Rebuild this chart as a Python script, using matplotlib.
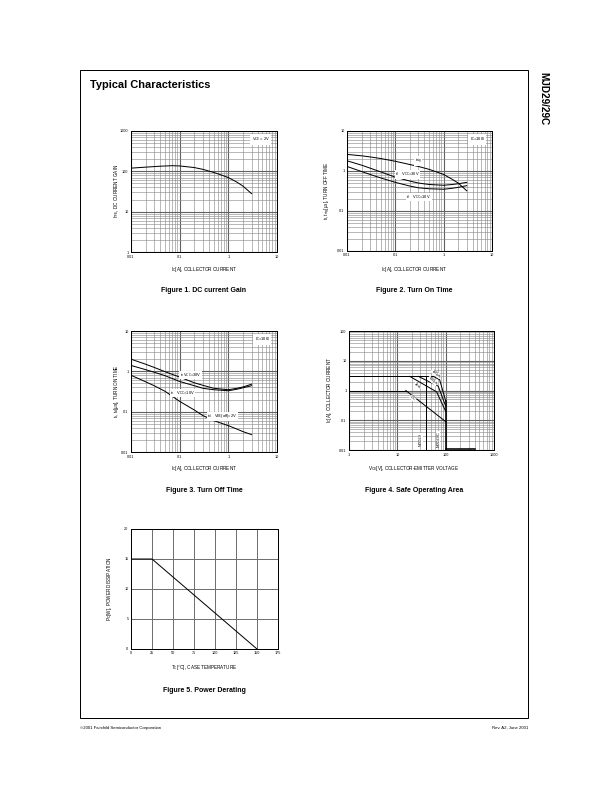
import matplotlib
matplotlib.use("Agg")
import matplotlib.pyplot as plt
import matplotlib.patches as patches
from matplotlib.ticker import LogLocator, FixedLocator, NullFormatter
import numpy as np

plt.rcParams['font.family'] = ['Liberation Sans', 'DejaVu Sans']
plt.rcParams['mathtext.default'] = 'regular'

W, H = 612, 792

# Figure 1 - DC current gain
ic1 = [0.01, 0.02, 0.04, 0.07, 0.1, 0.2, 0.3, 0.5, 0.7, 1, 1.5, 2, 3]
hfe = [120, 127, 134, 138, 136, 124, 112, 94, 82, 70, 54, 43, 28]

# Figure 2 - turn off time
ic2 = [0.01, 0.02, 0.03, 0.05, 0.1, 0.2, 0.3, 0.5, 1, 1.5, 2, 3]
tstg = [2.6, 2.4, 2.25, 2.05, 1.75, 1.45, 1.3, 1.1, 0.82, 0.62, 0.5, 0.32]
tf30 = [1.8, 1.4, 1.18, 0.95, 0.7, 0.56, 0.5, 0.46, 0.44, 0.46, 0.48, 0.52]
tf10 = [1.3, 0.97, 0.82, 0.67, 0.52, 0.42, 0.38, 0.36, 0.35, 0.37, 0.39, 0.43]

# Figure 3 - turn on time
ic3 = [0.01, 0.02, 0.03, 0.05, 0.1, 0.2, 0.3, 0.5, 1, 1.5, 2, 3]
tr30 = [2.0, 1.5, 1.25, 0.98, 0.72, 0.52, 0.45, 0.38, 0.35, 0.38, 0.41, 0.48]
tr10 = [1.4, 1.1, 0.95, 0.78, 0.56, 0.44, 0.38, 0.35, 0.33, 0.36, 0.39, 0.44]
td = [0.8, 0.55, 0.44, 0.32, 0.18, 0.11, 0.08, 0.06, 0.045, 0.037, 0.032, 0.027]

# Figure 4 - safe operating area
soa_v_3a = [1, 55]
soa_i_3a = [3, 3]
soa_v_1a = [1, 15]
soa_i_1a = [1, 1]
v_100us = [55, 75, 100]
i_100us = [3, 2.3, 0.45]
v_500us = [27, 70, 100]
i_500us = [3, 1.4, 0.3]
v_1ms = [18, 65, 100]
i_1ms = [3, 0.9, 0.2]
v_dc = [15, 100]
i_dc = [1, 0.09]
v_mjd29 = [40, 40]
i_mjd29 = [3, 0.01]
v_mjd29c = [100, 100]
i_mjd29c = [0.45, 0.01]

# Figure 5 - power derating
tc = [0, 25, 150]
pc = [15, 15, 0]

log_ticks = [0.01, 0.1, 1, 10]
log_labels = ['0.01', '0.1', '1', '10']


def box(x0, y0, x1, y1):
    return [x0 / W, 1 - y1 / H, (x1 - x0) / W, (y1 - y0) / H]


def ftext(x, y, s, **kw):
    fig.text(x / W, 1 - y / H, s, **kw)


def style_log(ax, xt, xl, yt, yl):
    ax.set_xscale('log')
    ax.set_yscale('log')
    ax.set_xlim(xt[0], xt[-1])
    ax.set_ylim(yt[0], yt[-1])
    ax.xaxis.set_major_locator(FixedLocator(xt))
    ax.yaxis.set_major_locator(FixedLocator(yt))
    ax.set_xticklabels(xl)
    ax.set_yticklabels(yl)
    ax.xaxis.set_minor_locator(LogLocator(base=10, subs=range(2, 10)))
    ax.yaxis.set_minor_locator(LogLocator(base=10, subs=range(2, 10)))
    ax.xaxis.set_minor_formatter(NullFormatter())
    ax.yaxis.set_minor_formatter(NullFormatter())
    ax.grid(which='major', color='#606060', lw=1.1)
    ax.grid(which='minor', color='#8c8c8c', lw=0.6)
    ax.tick_params(which='both', length=0, labelsize=3.8, pad=2.5)
    for s in ax.spines.values():
        s.set_linewidth(1.0)
    ax.set_axisbelow(True)


fig = plt.figure(figsize=(W / 72, H / 72), dpi=72)

# page frame
fig.patches.append(patches.Rectangle((80 / W, 1 - 718 / H), 448 / W, 648 / H,
                                     transform=fig.transFigure, fill=False, lw=1.0, color='black'))
ftext(90, 85, 'Typical Characteristics', fontsize=11, fontweight='bold', va='center')
ftext(543, 72, 'MJD29/29C', fontsize=10, fontweight='bold', rotation=270, va='top', ha='center')
ftext(80, 728, '\u00a92001 Fairchild Semiconductor Corporation', fontsize=4.2, va='center')
ftext(528, 728, 'Rev. A2, June 2001', fontsize=4.2, va='center', ha='right')

lbl = dict(fontsize=4.6, ha='center', va='center')
cap = dict(fontsize=7, fontweight='bold', ha='center', va='center')
note = dict(fontsize=4, va='center', bbox=dict(facecolor='white', edgecolor='none', pad=0.3))

# Figure 1
ax1 = fig.add_axes(box(131, 131, 277, 252))
style_log(ax1, log_ticks, log_labels, [1, 10, 100, 1000], ['1', '10', '100', '1000'])
ax1.plot(ic1, hfe, color='black', lw=1.0)
ax1.text(0.95, 0.93, 'V$_{CE}$ = 2V', transform=ax1.transAxes, ha='right', va='center',
         fontsize=4, bbox=dict(facecolor='white', edgecolor='none', pad=1.5))
ftext(204, 270, 'I$_C$[A], COLLECTOR CURRENT', **lbl)
ftext(117, 191, 'h$_{FE}$, DC CURRENT GAIN', rotation=90, **lbl)
ftext(204, 291, 'Figure 1. DC current Gain', **cap)

# Figure 2
ax2 = fig.add_axes(box(347, 131, 492, 251))
style_log(ax2, log_ticks, log_labels, [0.01, 0.1, 1, 10], ['0.01', '0.1', '1', '10'])
ax2.plot(ic2, tstg, color='black', lw=1.0)
ax2.plot(ic2, tf30, color='black', lw=1.0)
ax2.plot(ic2, tf10, color='black', lw=1.0)
ax2.text(0.95, 0.93, 'I$_C$=10I$_B$', transform=ax2.transAxes, ha='right', va='center',
         fontsize=4, bbox=dict(facecolor='white', edgecolor='none', pad=1.5))
ax2.text(0.25, 1.8, 't$_{stg}$', **note)
ax2.text(0.1, 0.82, 't$_f$    V$_{CC}$=30V', **note)
ax2.text(0.17, 0.22, 't$_f$    V$_{CC}$=10V', **note)
ftext(414, 270, 'I$_C$[A], COLLECTOR CURRENT', **lbl)
ftext(328, 191, 't$_f$, t$_{stg}$[\u03bcs], TURN OFF TIME', rotation=90, **lbl)
ftext(414, 291, 'Figure 2. Turn On Time', **cap)

# Figure 3
ax3 = fig.add_axes(box(131, 331, 277, 452))
style_log(ax3, log_ticks, log_labels, [0.01, 0.1, 1, 10], ['0.01', '0.1', '1', '10'])
ax3.plot(ic3, tr30, color='black', lw=1.0)
ax3.plot(ic3, tr10, color='black', lw=1.0)
ax3.plot(ic3, td, color='black', lw=1.0)
ax3.text(0.95, 0.93, 'I$_C$=10I$_B$', transform=ax3.transAxes, ha='right', va='center',
         fontsize=4, bbox=dict(facecolor='white', edgecolor='none', pad=1.5))
ax3.text(0.1, 0.8, 't$_r$ V$_{CC}$=30V', **note)
ax3.text(0.064, 0.29, 't$_r$    V$_{CC}$=10V', **note)
ax3.text(0.37, 0.077, 't$_d$    V$_{BE}$(off)=2V', **note)
ftext(204, 469, 'I$_C$[A], COLLECTOR CURRENT', **lbl)
ftext(117, 391, 't$_r$, t$_d$[\u03bcs], TURN ON TIME', rotation=90, **lbl)
ftext(204, 491, 'Figure 3. Turn Off Time', **cap)

# Figure 4
ax4 = fig.add_axes(box(349, 331, 494, 450))
style_log(ax4, [1, 10, 100, 1000], ['1', '10', '100', '1000'],
          [0.01, 0.1, 1, 10, 100], ['0.01', '0.1', '1', '10', '100'])
for v, i in [(soa_v_3a, soa_i_3a), (soa_v_1a, soa_i_1a), (v_100us, i_100us),
             (v_500us, i_500us), (v_1ms, i_1ms), (v_dc, i_dc), (v_mjd29, i_mjd29)]:
    ax4.plot(v, i, color='black', lw=1.0)
ax4.plot(v_mjd29c, i_mjd29c, color='black', lw=1.6)
ax4.plot([100, 400], [0.0105, 0.0105], color='black', lw=1.6)
ax4.text(63, 3.7, '100\u03bcs', rotation=-40, ha='center', **note)
ax4.text(54, 2.1, '500\u03bcs', rotation=-40, ha='center', **note)
ax4.text(26, 1.4, '1ms', rotation=-40, ha='center', **note)
ax4.text(21, 0.55, 'DC', rotation=-40, ha='center', **note)
ax4.text(30, 0.022, 'MJD29', rotation=90, ha='center', **note)
ax4.text(70, 0.024, 'MJD29C', rotation=90, ha='center', **note)
ftext(414, 469, 'V$_{CE}$[V], COLLECTOR-EMITTER VOLTAGE', **lbl)
ftext(330, 390, 'I$_C$[A], COLLECTOR CURRENT', rotation=90, **lbl)
ftext(414, 491, 'Figure 4. Safe Operating Area', **cap)

# Figure 5
ax5 = fig.add_axes(box(131, 529, 278, 649))
ax5.plot(tc, pc, color='black', lw=1.0)
ax5.set_xlim(0, 175)
ax5.set_ylim(0, 20)
ax5.set_xticks(np.arange(0, 176, 25))
ax5.set_yticks([0, 5, 10, 15, 20])
ax5.grid(color='#707070', lw=1.0)
ax5.set_axisbelow(True)
ax5.tick_params(length=0, labelsize=3.8, pad=2.5)
for s in ax5.spines.values():
    s.set_linewidth(1.0)
ftext(204, 668, 'T$_C$[\u00b0C], CASE TEMPERATURE', **lbl)
ftext(110, 589, 'P$_C$[W], POWER DISSIPATION', rotation=90, **lbl)
ftext(204, 690, 'Figure 5. Power Derating', **cap)

fig.savefig('out.png', dpi=72)
